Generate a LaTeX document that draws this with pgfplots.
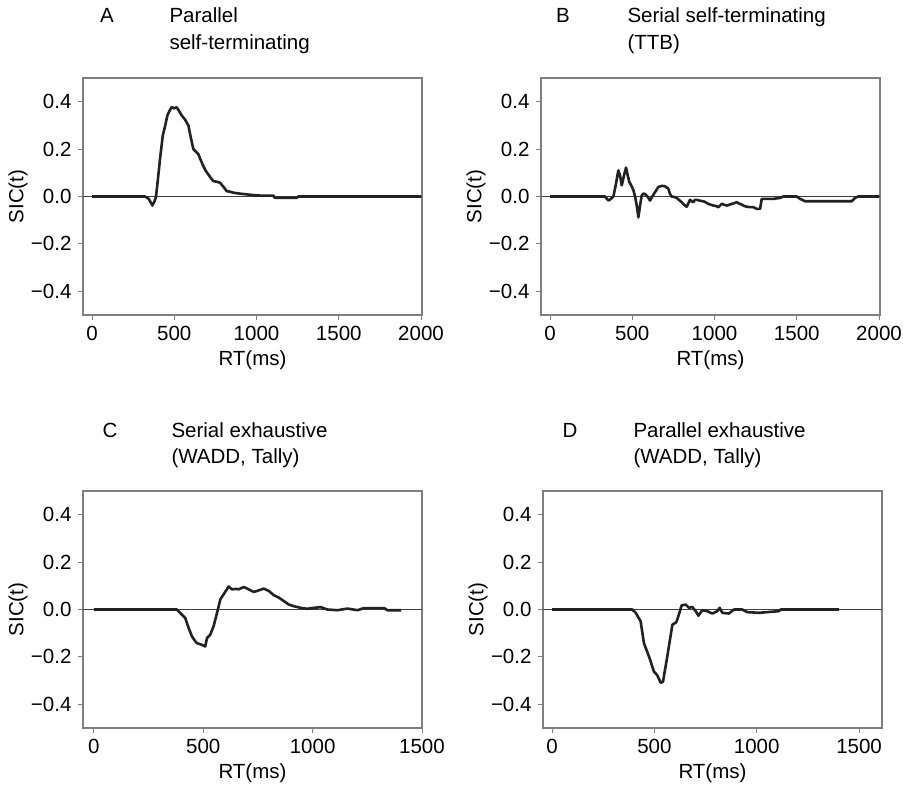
\documentclass[border=0pt]{standalone}
\usepackage{fontspec}
\setmainfont{Liberation Sans}
\usepackage{pgfplots}
\pgfplotsset{compat=1.18}
\definecolor{boxgray}{HTML}{7F7F7F}
\definecolor{curve}{HTML}{222222}
\begin{document}
\begin{tikzpicture}[font=\fontsize{20.5}{24}\selectfont]
\useasboundingbox (0pt,0pt) rectangle (903pt,-787pt);
\pgfplotsset{
  sic/.style={
    scale only axis, anchor=north west,
    width=339pt, height=237pt,
    ymin=-0.5, ymax=0.5,
    ytick={-0.4,-0.2,0,0.2,0.4},
    yticklabels={−0.4,−0.2,0.0,0.2,0.4},
    /pgf/number format/assume math mode=true,
    /pgf/number format/1000 sep={},
    tick align=outside, tick pos=left,
    major tick length=5pt,
    axis line style={boxgray, line width=1.1pt},
    tick style={boxgray, line width=0.9pt},
    ticklabel style={font=\fontsize{20.5}{24}\selectfont, text=black},
    label style={font=\fontsize{20.5}{24}\selectfont},
    xticklabel style={anchor=base, yshift=-20pt},
    yticklabel style={anchor=east, xshift=-3pt},
    xlabel={RT(ms)}, ylabel={SIC(t)},
    xlabel style={at={(axis description cs:0.5,0)}, anchor=base, yshift=-50pt},
    ylabel style={at={(axis description cs:0,0.5)}, anchor=center, rotate=0, yshift=65pt},
    clip=true,
  },
  curveline/.style={curve, line width=2.6pt, line join=round, no marks},
  zeroline/.style={black!75, line width=0.8pt, no marks},
}
% Panel A
\begin{axis}[sic, at={(83pt,-78pt)}, xmin=-55, xmax=2006, xtick={0,500,1000,1500,2000}]
\addplot[zeroline] coordinates {(-55,0) (2006,0)};
\addplot[curveline] coordinates {
(0,0) (322,0) (345,-0.01) (367,-0.038) (380,-0.02) (389,0) (400,0.07) (413,0.157) (430,0.257) (445,0.3) (458,0.342) (470,0.36)
(484,0.377) (500,0.372) (514,0.377) (530,0.36) (545,0.342) (565,0.325) (586,0.299) (600,0.25) (616,0.2) (630,0.19) (646,0.179) (660,0.155)
(676,0.129) (690,0.11) (706,0.094) (720,0.08) (737,0.065) (760,0.062) (778,0.058) (800,0.04) (818,0.023) (840,0.02) (859,0.016) (900,0.012)
(940,0.009) (980,0.006) (1021,0.004) (1102,0.004) (1112,-0.006) (1244,-0.006) (1254,0) (2000,0)};
\end{axis}
% Panel B
\begin{axis}[sic, at={(541pt,-78pt)}, xmin=-55, xmax=2006, xtick={0,500,1000,1500,2000}]
\addplot[zeroline] coordinates {(-55,0) (2006,0)};
\addplot[curveline] coordinates {
(0,0) (334,0) (355,-0.017) (370,-0.01) (385,0) (400,0.05) (415,0.11) (425,0.09) (436,0.047) (450,0.09) (462,0.122) (472,0.09) (482,0.061)
(495,0.045) (507,0.026) (517,0) (527,-0.038) (537,-0.088) (547,-0.04) (557,0.004) (567,0.012) (577,0.011) (592,0) (608,-0.017) (622,0)
(638,0.018) (658,0.04) (680,0.045) (699,0.043) (719,0.033) (730,0.01) (739,0) (755,-0.002) (770,-0.006) (785,-0.015) (800,-0.024) (815,-0.035)
(831,-0.043) (840,-0.03) (851,-0.014) (861,-0.02) (871,-0.024) (881,-0.014) (892,-0.014) (912,-0.018) (932,-0.02) (947,-0.025) (962,-0.031)
(978,-0.035) (993,-0.038) (1008,-0.04) (1023,-0.045) (1034,-0.038) (1044,-0.031) (1060,-0.035) (1074,-0.038) (1090,-0.035) (1105,-0.031)
(1120,-0.028) (1135,-0.024) (1150,-0.03) (1165,-0.034) (1180,-0.04) (1196,-0.043) (1215,-0.045) (1236,-0.045) (1256,-0.052) (1277,-0.052)
(1287,-0.01) (1358,-0.01) (1398,-0.006) (1419,0) (1500,0) (1520,-0.01) (1550,-0.02) (1834,-0.02) (1854,-0.006) (1874,0) (2000,0)};
\end{axis}
% Panel C
\begin{axis}[sic, at={(83pt,-491pt)}, xmin=-50, xmax=1500, xtick={0,500,1000,1500}]
\addplot[zeroline] coordinates {(-50,0) (1500,0)};
\addplot[curveline] coordinates {
(0,0) (379,0) (394,-0.014) (417,-0.035) (433,-0.078) (448,-0.113) (460,-0.13) (471,-0.142) (494,-0.149) (509,-0.156) (517,-0.12)
(532,-0.106) (547,-0.071) (563,-0.014) (578,0.043) (593,0.064) (616,0.097) (631,0.085) (650,0.087) (662,0.085) (685,0.095) (708,0.085)
(731,0.074) (754,0.081) (777,0.088) (800,0.078) (823,0.06) (846,0.05) (869,0.035) (891,0.021) (914,0.014) (945,0.007) (976,0.003)
(1006,0.007) (1037,0.01) (1067,0) (1113,-0.003) (1159,0.004) (1205,-0.003) (1235,0.006) (1327,0.006) (1342,-0.003) (1404,-0.003)};
\end{axis}
% Panel D
\begin{axis}[sic, at={(543pt,-491pt)}, xmin=-44, xmax=1612, xtick={0,500,1000,1500}]
\addplot[zeroline] coordinates {(-44,0) (1612,0)};
\addplot[curveline] coordinates {
(0,0) (392,0) (409,-0.014) (433,-0.05) (449,-0.142) (474,-0.199) (498,-0.262) (514,-0.277) (531,-0.309) (542,-0.305) (563,-0.199)
(588,-0.064) (607,-0.054) (620,-0.021) (633,0.017) (653,0.021) (669,0.007) (685,0.011) (702,-0.007) (715,-0.026) (734,-0.003)
(758,-0.007) (783,-0.017) (807,-0.007) (819,0.007) (832,-0.014) (864,-0.017) (889,0) (929,0) (954,-0.011) (1011,-0.014) (1108,-0.007)
(1117,0) (1402,0)};
\end{axis}
% Panel titles
\node[anchor=base] at (107pt,-23pt) {A};
\node[anchor=base west] at (166pt,-23pt) {Parallel};
\node[anchor=base west] at (166pt,-49pt) {self-terminating};
\node[anchor=base] at (563pt,-23pt) {B};
\node[anchor=base west] at (624pt,-23pt) {Serial self-terminating};
\node[anchor=base west] at (624pt,-49pt) {(TTB)};
\node[anchor=base] at (110pt,-437pt) {C};
\node[anchor=base west] at (168pt,-437pt) {Serial exhaustive};
\node[anchor=base west] at (168pt,-463pt) {(WADD, Tally)};
\node[anchor=base] at (570pt,-437pt) {D};
\node[anchor=base west] at (630pt,-437pt) {Parallel exhaustive};
\node[anchor=base west] at (630pt,-463pt) {(WADD, Tally)};
\end{tikzpicture}
\end{document}
